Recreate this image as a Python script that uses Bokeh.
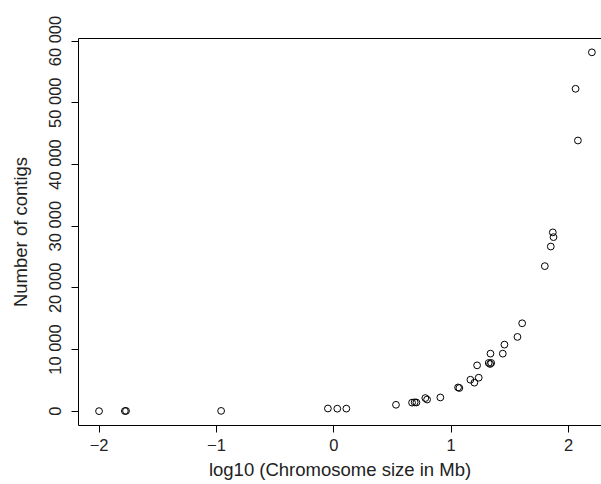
from bokeh.plotting import figure
from bokeh.models import ColumnDataSource, FixedTicker, LinearAxis, Range1d
from bokeh.embed import file_html
from bokeh.resources import INLINE

# log10 chromosome size (Mb)
log_size = [-2.0, -1.78, -1.77, -0.96, -0.05, 0.03, 0.107, 0.53, 0.667, 0.689,
            0.704, 0.78, 0.795, 0.908, 1.059, 1.07, 1.164, 1.198, 1.221, 1.235,
            1.32, 1.332, 1.341, 1.335, 1.44, 1.454, 1.565, 1.605, 1.798, 1.849,
            1.866, 1.872, 2.06, 2.08, 2.199]
# number of contigs
n_contigs = [20, 40, 60, 60, 450, 420, 430, 1050, 1400, 1450,
             1420, 2140, 1900, 2240, 3860, 3770, 5110, 4630, 7440, 5440,
             7830, 7660, 7830, 9340, 9340, 10800, 12050, 14260, 23520, 26700,
             28990, 28220, 52260, 43880, 58170]

x_ticks = [-2, -1, 0, 1, 2]
x_tick_labels = ["\u22122", "\u22121", "0", "1", "2"]
y_ticks = [0, 10000, 20000, 30000, 40000, 50000, 60000]
y_tick_labels = ["0", "10 000", "20 000", "30 000", "40 000", "50 000", "60 000"]

FONT = "Liberation Sans"

src = ColumnDataSource(data=dict(x=log_size, y=n_contigs))

p = figure(width=601, height=484, output_backend="svg", toolbar_location=None,
           x_range=Range1d(-2.175, 2.281), y_range=Range1d(-2306, 60410),
           min_border_left=78, min_border_right=0, min_border_top=38,
           min_border_bottom=59)
p.outline_line_color = None
p.background_fill_color = "white"
p.border_fill_color = "white"
p.grid.visible = False

p.scatter("x", "y", source=src, marker="circle", size=6.8, fill_color=None,
          line_color="black", line_width=1)

xa = p.xaxis[0]
xa.ticker = FixedTicker(ticks=x_ticks)
xa.major_label_overrides = dict(zip(x_ticks, x_tick_labels))
xa.axis_label = "log10 (Chromosome size in Mb)"

ya = p.yaxis[0]
ya.ticker = FixedTicker(ticks=y_ticks)
ya.major_label_overrides = dict(zip(y_ticks, y_tick_labels))
ya.major_label_orientation = "vertical"
ya.axis_label = "Number of contigs"

for ax in (xa, ya):
    ax.minor_tick_line_color = None
    ax.major_tick_out = 7
    ax.major_tick_in = 0
    ax.axis_line_color = "black"
    ax.major_tick_line_color = "black"
    ax.major_label_text_font = FONT
    ax.major_label_text_font_size = "16.5px"
    ax.major_label_text_color = "#222222"
    ax.axis_label_text_font = FONT
    ax.axis_label_text_font_size = "18.5px"
    ax.axis_label_text_font_style = "normal"
    ax.axis_label_text_color = "#222222"

xa.major_label_standoff = 6
xa.axis_label_standoff = 5
ya.major_label_standoff = 7
ya.axis_label_standoff = 13

top = LinearAxis(ticker=FixedTicker(ticks=[]), major_label_text_font_size="0px",
                 axis_line_color="black", major_tick_line_color=None,
                 minor_tick_line_color=None)
p.add_layout(top, "above")

open("out.html", "w").write(file_html(p, INLINE))
